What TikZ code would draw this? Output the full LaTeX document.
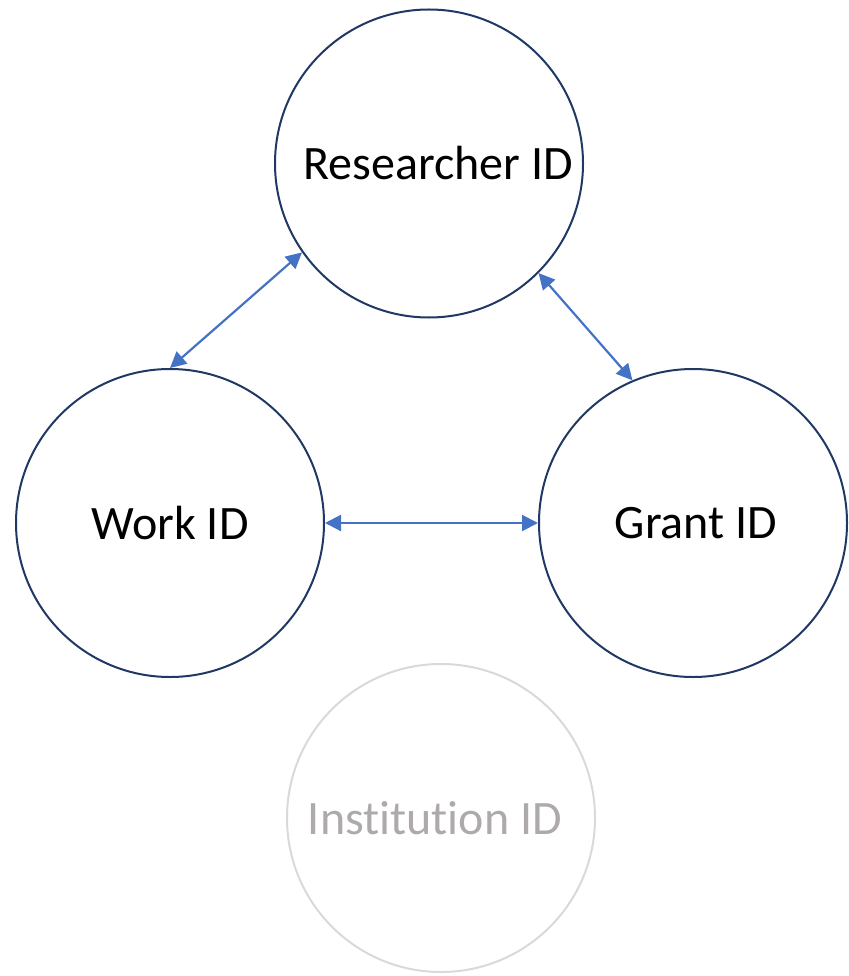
\documentclass[tikz,border=0pt]{standalone}
\usepackage{fontspec}
\setmainfont{Carlito}[RawFeature=-liga]
\usetikzlibrary{arrows.meta}
\definecolor{navy}{HTML}{1F3864}
\definecolor{linkblue}{HTML}{4472C4}
\definecolor{faded}{HTML}{D9D9D9}
\definecolor{fadedtext}{HTML}{AEAAAA}
\begin{document}
\begin{tikzpicture}[x=1pt,y=-1pt,thick]
\fontsize{48}{56}\selectfont
\tikzstyle{idnode}=[circle, minimum size = 308pt, inner sep = 0pt, line width = 2pt, draw = navy]
\tikzstyle{link}=[{Triangle[length=16pt,width=16pt]}-{Triangle[length=16pt,width=16pt]}, line width = 2.2pt, draw = linkblue]
\useasboundingbox (0,0) rectangle (848,976);
\node[idnode] (researcher) at (429,163.5) {\hspace*{18pt}Researcher ID};
\node[idnode] (work) at (170,523) {Work ID};
\node[idnode] (grant) at (693,523) {\hspace*{6pt}Grant ID};
\node[idnode, draw = faded, text = fadedtext] (institution) at (441,818) {Institution ID\hspace*{12pt}};
\path (researcher.215) edge[link] (work.north);
\path (researcher.315) edge[link] (grant.113);
\path (work.east) edge[link] (grant.west);
\end{tikzpicture}
\end{document}
